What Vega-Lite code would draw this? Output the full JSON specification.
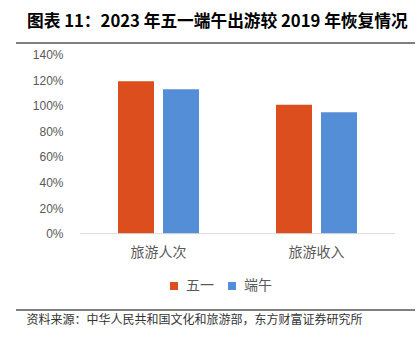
{
  "$schema": "https://vega.github.io/schema/vega-lite/v6.json",
  "width": 399,
  "height": 267,
  "autosize": {"type": "none"},
  "padding": {"left": 16, "top": 43, "right": 5, "bottom": 33},
  "config": {"view": {"stroke": null}, "axisY": {"labelOverlap": false}},
  "title": {
    "text": "图表 11：2023 年五一端午出游较 2019 年恢复情况",
    "anchor": "start",
    "frame": "group",
    "dx": 11,
    "offset": 12,
    "font": "Noto Sans CJK SC",
    "fontSize": 16.7,
    "fontWeight": "bold",
    "color": "#000000"
  },
  "data": {
    "values": [
      {"cat": "旅游人次", "holiday": "五一", "v": 1.1909},
      {"cat": "旅游人次", "holiday": "端午", "v": 1.128},
      {"cat": "旅游收入", "holiday": "五一", "v": 1.0066},
      {"cat": "旅游收入", "holiday": "端午", "v": 0.949}
    ]
  },
  "layer": [
    {
      "mark": {"type": "bar"},
      "encoding": {
        "x": {
          "field": "cat",
          "type": "nominal",
          "sort": ["旅游人次", "旅游收入"],
          "scale": {"type": "band", "paddingInner": 0.4873, "paddingOuter": 0.5063, "align": 0.6375},
          "axis": {
            "orient": "bottom",
            "offset": -65,
            "domain": false,
            "ticks": false,
            "labelPadding": 0,
            "labelAngle": 0,
            "labelFont": "Noto Sans CJK SC",
            "labelFontSize": 14,
            "labelColor": "#595959",
            "title": "资料来源：中华人民共和国文化和旅游部，东方财富证券研究所",
            "titleX": 10,
            "titleY": 74,
            "titleAnchor": "start",
            "titleAlign": "left",
            "titleBaseline": "middle",
            "titleFont": "Noto Sans CJK SC",
            "titleFontSize": 12,
            "titleFontWeight": "normal",
            "titleColor": "#333333"
          }
        },
        "xOffset": {
          "field": "holiday",
          "type": "nominal",
          "sort": ["五一", "端午"],
          "scale": {"paddingInner": 0.2, "paddingOuter": 0}
        },
        "y": {
          "field": "v",
          "type": "quantitative",
          "scale": {"domain": [-0.5958, 1.489], "nice": false, "zero": false},
          "axis": {
            "values": [0, 0.2, 0.4, 0.6, 0.8, 1.0, 1.2, 1.4],
            "tickCount": 8,
            "format": ".0%",
            "labelOverlap": false,
            "labelSeparation": 0,
            "domain": false,
            "ticks": false,
            "grid": false,
            "offset": -49,
            "labelPadding": 2,
            "labelFont": "Liberation Sans",
            "labelFontSize": 12,
            "labelColor": "#595959",
            "title": null
          }
        },
        "color": {
          "field": "holiday",
          "type": "nominal",
          "scale": {"domain": ["五一", "端午"], "range": ["#DC4E1E", "#538ED6"]},
          "legend": {
            "orient": "none",
            "legendX": 151,
            "legendY": 236,
            "direction": "horizontal",
            "title": null,
            "symbolType": "square",
            "symbolSize": 64,
            "symbolStrokeWidth": 0,
            "labelFont": "Noto Sans CJK SC",
            "labelFontSize": 14,
            "labelColor": "#595959",
            "labelOffset": 5,
            "columnPadding": 11
          }
        }
      }
    },
    {
      "data": {"values": [{}]},
      "mark": {"type": "rule", "color": "#D9D9D9", "strokeWidth": 1},
      "encoding": {
        "x": {"datum": "旅游人次", "bandPosition": -0.469},
        "x2": {"datum": "旅游收入", "bandPosition": 1.469},
        "y": {"datum": 0}
      }
    },
    {
      "data": {"values": [{}]},
      "mark": {"type": "rule", "color": "#000000", "strokeWidth": 1},
      "encoding": {"y": {"datum": 1.489}}
    },
    {
      "data": {"values": [{}]},
      "mark": {"type": "rule", "color": "#000000", "strokeWidth": 1},
      "encoding": {"y": {"datum": -0.5958}}
    }
  ]
}
